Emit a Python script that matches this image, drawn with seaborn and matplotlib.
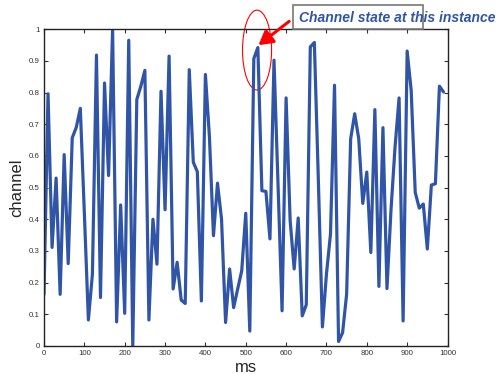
import matplotlib
matplotlib.use("Agg")
import matplotlib.pyplot as plt
import seaborn as sns
import pandas as pd
from matplotlib.patches import Ellipse, Rectangle

ms = [0, 10, 20, 30, 40, 50, 60, 70, 80, 90,
      100, 110, 120, 130, 140, 150, 160, 170, 180, 190,
      200, 210, 220, 230, 240, 250, 260, 270, 280, 290,
      300, 310, 320, 330, 340, 350, 360, 370, 380, 390,
      400, 410, 420, 430, 440, 450, 460, 470, 480, 490,
      500, 510, 520, 530, 540, 550, 560, 570, 580, 590,
      600, 610, 620, 630, 640, 650, 660, 670, 680, 690,
      700, 710, 720, 730, 740, 750, 760, 770, 780, 790,
      800, 810, 820, 830, 840, 850, 860, 870, 880, 890,
      900, 910, 920, 930, 940, 950, 960, 970, 980, 990]
channel = [0.163, 0.796, 0.311, 0.530, 0.163, 0.604, 0.260, 0.657, 0.690, 0.750,
           0.420, 0.082, 0.227, 0.918, 0.153, 0.830, 0.538, 1.000, 0.076, 0.445,
           0.103, 0.965, 0.000, 0.778, 0.820, 0.870, 0.082, 0.400, 0.258, 0.804,
           0.430, 0.915, 0.180, 0.264, 0.145, 0.134, 0.872, 0.580, 0.550, 0.142,
           0.857, 0.660, 0.348, 0.514, 0.400, 0.074, 0.243, 0.121, 0.180, 0.237,
           0.419, 0.047, 0.907, 0.942, 0.490, 0.488, 0.338, 0.902, 0.510, 0.111,
           0.783, 0.396, 0.243, 0.404, 0.095, 0.130, 0.944, 0.958, 0.520, 0.060,
           0.227, 0.353, 0.823, 0.014, 0.042, 0.163, 0.654, 0.733, 0.654, 0.450,
           0.549, 0.295, 0.746, 0.188, 0.689, 0.181, 0.430, 0.628, 0.783, 0.079,
           0.931, 0.807, 0.485, 0.435, 0.448, 0.306, 0.508, 0.512, 0.820, 0.802]
x_ticks = [0, 100, 200, 300, 400, 500, 600, 700, 800, 900, 1000]
y_ticks = [0, 0.1, 0.2, 0.3, 0.4, 0.5, 0.6, 0.7, 0.8, 0.9, 1]
y_tick_labels = ["0", "0.1", "0.2", "0.3", "0.4", "0.5", "0.6", "0.7", "0.8", "0.9", "1"]
annotation_text = "Channel state at this instance"

sns.set_theme(style="ticks")
plt.rcParams['font.family'] = ['Liberation Sans', 'DejaVu Sans']

df = pd.DataFrame({"ms": ms, "channel": channel})

fig = plt.figure(figsize=(5.0, 3.74), dpi=100)
ax = fig.add_axes([0.088, 0.075, 0.807, 0.847])

sns.lineplot(data=df, x="ms", y="channel", ax=ax, color="#3155A6", linewidth=2.3)

ax.set_xlim(0, 1000)
ax.set_ylim(0, 1)
ax.set_xticks(x_ticks)
ax.set_yticks(y_ticks)
ax.set_yticklabels(y_tick_labels)
ax.tick_params(direction="in", length=3, width=0.8, labelsize=5.7, colors="#333333",
               top=True, right=True, pad=3)
for s in ax.spines.values():
    s.set_visible(True)
    s.set_linewidth(1.0)
    s.set_color("#222222")

ax.set_xlabel("ms", fontsize=12, labelpad=2)
ax.set_ylabel("channel", fontsize=12, labelpad=3)

# red ellipse around the instance
ell = Ellipse((528, 0.934), 72, 0.252, fill=False, edgecolor="red", linewidth=0.8,
              clip_on=False)
ax.add_patch(ell)

# arrow
ax.annotate("", xy=(526, 0.944), xytext=(613, 1.03), xycoords="data",
            textcoords="data", annotation_clip=False,
            arrowprops=dict(arrowstyle="-|>,head_length=0.7,head_width=0.4",
                            color="red", lw=2.2))

# label box
rect = Rectangle((293 / 500, 1 - 29 / 374), 130 / 500, 24 / 374, transform=fig.transFigure,
                 facecolor="white", edgecolor="#777777", linewidth=1.2, zorder=5)
fig.patches.append(rect)
fig.text(299 / 500, 1 - 22.5 / 374, annotation_text, fontsize=10, color="#3155A6",
         fontweight="bold", fontstyle="italic", va="baseline", ha="left", zorder=6)

fig.savefig("out.png", dpi=100)
